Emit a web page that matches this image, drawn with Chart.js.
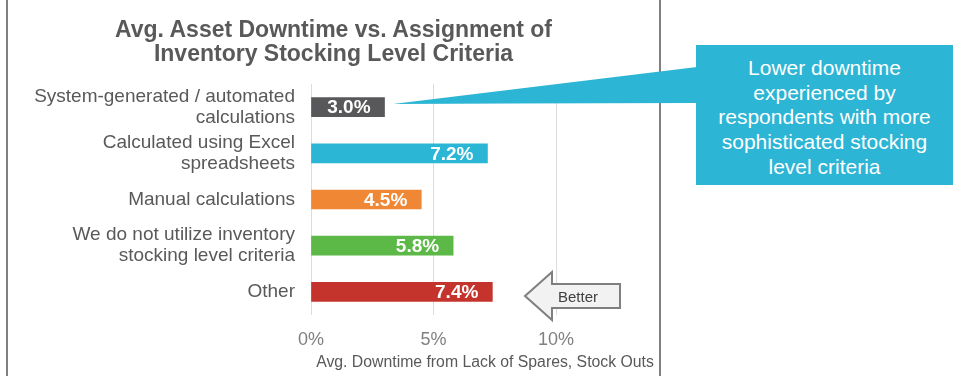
<!DOCTYPE html>
<html>
<head>
<meta charset="utf-8">
<script src="https://cdn.jsdelivr.net/npm/chart.js@4/dist/chart.umd.min.js"></script>
<style>
  html, body { margin: 0; padding: 0; background: #fff; }
  body { font-family: "Liberation Sans", Arial, sans-serif; }
  #wrap { position: relative; width: 960px; height: 376px; overflow: hidden; }
  #chart { position: absolute; left: 0; top: 0; }
  .frame { position: absolute; top: 0; width: 2px; height: 376px; background: #808080; }
  #title {
    position: absolute; left: 7px; top: 17px; width: 653px;
    text-align: center; font-weight: bold; font-size: 23px; line-height: 24px; color: #595959;
  }
  #overlay { position: absolute; left: 0; top: 0; }
  #callout {
    position: absolute; left: 696px; top: 45px; width: 257px; height: 140px;
    box-sizing: border-box; padding-top: 11px;
    background: #2cb5d4; color: #fff; text-align: center;
    font-size: 21px; line-height: 24.7px;
  }
  #better {
    position: absolute; left: 548px; top: 287px; width: 60px;
    text-align: center; font-size: 15px; line-height: 20px; color: #404040;
  }
</style>
</head>
<body>
<div id="wrap">
  <canvas id="chart" width="960" height="376"></canvas>
  <div class="frame" style="left:6px"></div>
  <div class="frame" style="left:659px"></div>
  <div id="title">Avg. Asset Downtime vs. Assignment of<br>Inventory Stocking Level Criteria</div>
  <svg id="overlay" width="960" height="376">
    <polygon points="393,104 697,67 697,103" fill="#2cb5d4"></polygon>
    <polygon points="525,296 552,272 552,284 620,284 620,308 552,308 552,320"
             fill="#f2f2f2" stroke="#7f7f7f" stroke-width="2" stroke-linejoin="miter"></polygon>
  </svg>
  <div id="callout">Lower downtime<br>experienced by<br>respondents with more<br>sophisticated stocking<br>level criteria</div>
  <div id="better">Better</div>
</div>

<script>
// Avg. downtime (%) by how stocking level criteria are assigned
var CATEGORIES = [
  ["System-generated / automated", "calculations"],
  ["Calculated using Excel", "spreadsheets"],
  ["Manual calculations"],
  ["We do not utilize inventory", "stocking level criteria"],
  ["Other"]
];
var DOWNTIME = [3.0, 7.2, 4.5, 5.8, 7.4];
var BAR_COLORS = ["#58585a", "#2bb6d5", "#f08735", "#5db947", "#c4342d"];
var TICK_VALUES = [0, 5, 10];
var AXIS_TITLE = "Avg. Downtime from Lack of Spares, Stock Outs";

var FONT = "'Liberation Sans', Arial, sans-serif";

// white value labels, right-aligned inside each bar
var barLabels = {
  id: "barLabels",
  afterDatasetsDraw: function(chart) {
    var ctx = chart.ctx;
    var meta = chart.getDatasetMeta(0);
    ctx.save();
    ctx.font = "bold 19px " + FONT;
    ctx.fillStyle = "#ffffff";
    ctx.textAlign = "right";
    ctx.textBaseline = "middle";
    meta.data.forEach(function(bar, i) {
      ctx.fillText(DOWNTIME[i].toFixed(1) + "%", bar.x - 14, bar.y + 1);
    });
    ctx.restore();
  }
};

new Chart(document.getElementById("chart"), {
  type: "bar",
  data: {
    labels: CATEGORIES,
    datasets: [{
      data: DOWNTIME,
      backgroundColor: BAR_COLORS,
      borderWidth: 0,
      barThickness: 19
    }]
  },
  options: {
    indexAxis: "y",
    responsive: false,
    animation: false,
    layout: { padding: { top: 84, left: 0, right: 301, bottom: 0 } },
    plugins: { legend: { display: false }, tooltip: { enabled: false } },
    scales: {
      y: {
        afterFit: function(s) { s.width = 311; },
        grid: { display: false },
        border: { display: false },
        ticks: {
          color: "#595959",
          padding: 8,
          font: { family: FONT, size: 19, lineHeight: 1.1 }
        }
      },
      x: {
        min: 0,
        max: 14.2,
        afterFit: function(s) { s.height = 61; },
        afterBuildTicks: function(s) {
          s.ticks = TICK_VALUES.map(function(v) { return { value: v }; });
        },
        grid: { color: "#dcdcdc", drawTicks: false },
        border: { display: false },
        ticks: {
          color: "#808080",
          padding: 14,
          font: { family: FONT, size: 18 },
          callback: function(v) { return v + "%"; }
        },
        title: {
          display: true,
          text: AXIS_TITLE,
          color: "#595959",
          font: { family: FONT, size: 15.8 },
          padding: { top: 0, bottom: 4 }
        }
      }
    }
  },
  plugins: [barLabels]
});
</script>
</body>
</html>
